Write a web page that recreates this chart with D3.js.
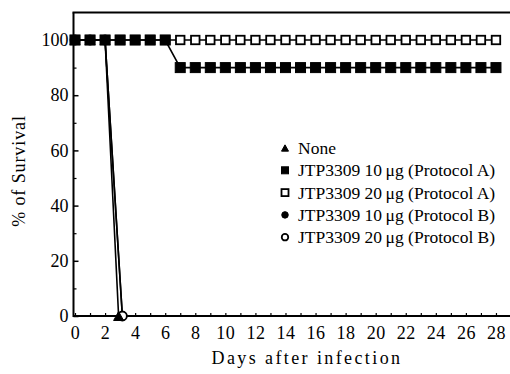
<!DOCTYPE html>
<html>
<head>
<meta charset="utf-8">
<script src="https://cdn.jsdelivr.net/npm/d3@7"></script>
<style>
  html, body { margin: 0; padding: 0; background: #fff; }
  svg { display: block; }
  text { font-family: "Liberation Serif", "Times New Roman", serif; fill: #000; }
</style>
</head>
<body>
<svg id="chart" width="510" height="374" font-family="Liberation Serif"></svg>
<script>
// ---- data ----
const daysAll = d3.range(0, 29);                       // 0..28
const noneDays = [0, 1, 2, 2.9];
const noneVals = [100, 100, 100, 0];
const a10Days = daysAll;
const a10Vals = daysAll.map(d => d <= 6 ? 100 : 90);  // 100 until day 6, 90 from day 7
const a20Days = daysAll;
const a20Vals = daysAll.map(() => 100);
const b10Days = [0, 1, 2, 3.15];
const b10Vals = [100, 100, 100, 0];
const b20Days = [0, 1, 2, 3.15];
const b20Vals = [100, 100, 100, 0];
const xTickLabels = d3.range(0, 29, 2);
const yTickLabels = [0, 20, 40, 60, 80, 100];
const legendLabels = [
  "None",
  "JTP3309 10\u2009\u03bcg (Protocol A)",
  "JTP3309 20\u2009\u03bcg (Protocol A)",
  "JTP3309 10\u2009\u03bcg (Protocol B)",
  "JTP3309 20\u2009\u03bcg (Protocol B)"
];

// ---- layout ----
const FONT = "Liberation Serif";
const svg = d3.select("#chart");
const x = d3.scaleLinear().domain([0, 29]).range([75, 511]);
const y = d3.scaleLinear().domain([0, 110]).range([316, 12.4]);

const series = [
  { name: legendLabels[3], days: b10Days, vals: b10Vals, shape: "circle", fill: true },
  { name: legendLabels[4], days: b20Days, vals: b20Vals, shape: "circle", fill: false },
  { name: legendLabels[0], days: noneDays, vals: noneVals, shape: "triangle", fill: true },
  { name: legendLabels[2], days: a20Days, vals: a20Vals, shape: "square", fill: false },
  { name: legendLabels[1], days: a10Days, vals: a10Vals, shape: "square", fill: true }
];

// frame / axes
const axX = svg.append("g").attr("transform", `translate(0,${y(0)})`)
  .call(d3.axisBottom(x).tickValues(daysAll).tickSize(-3).tickPadding(10)
    .tickFormat(d => xTickLabels.includes(d) ? d : ""));
axX.attr("font-family", FONT).attr("font-size", 18);
axX.select(".domain").remove();
axX.selectAll("text").attr("letter-spacing", 0.5);
axX.selectAll(".tick line").attr("stroke-width", 1.2);
svg.append("line").attr("x1", x(0) - 2).attr("x2", 512).attr("y1", y(0)).attr("y2", y(0))
  .attr("stroke", "#000").attr("stroke-width", 2);

const axY = svg.append("g").attr("transform", `translate(${x(0) - 1.5},0)`)
  .call(d3.axisLeft(y).tickValues(yTickLabels).tickSize(-5).tickPadding(5));
axY.attr("font-family", FONT).attr("font-size", 18);
axY.select(".domain").remove();
axY.selectAll(".tick line").attr("stroke-width", 1.5);
const axYm = svg.append("g").attr("transform", `translate(${x(0) - 1.5},0)`)
  .call(d3.axisLeft(y).tickValues([10, 30, 50, 70, 90]).tickSize(-3).tickFormat(""));
axYm.select(".domain").remove();
axYm.selectAll(".tick line").attr("stroke-width", 1.2);
svg.append("line").attr("x1", x(0) - 1.5).attr("x2", x(0) - 1.5).attr("y1", y(110)).attr("y2", y(0) + 1)
  .attr("stroke", "#000").attr("stroke-width", 2);
svg.append("line").attr("x1", x(0) - 2.5).attr("x2", 512).attr("y1", y(110)).attr("y2", y(110))
  .attr("stroke", "#000").attr("stroke-width", 2);

// axis titles
svg.append("text").attr("x", 307).attr("y", 364).attr("text-anchor", "middle")
  .attr("font-family", FONT).attr("font-size", 18).attr("letter-spacing", 2.4).text("Days after infection");
svg.append("text").attr("transform", "translate(25,171) rotate(-90)").attr("text-anchor", "middle")
  .attr("font-family", FONT).attr("font-size", 18).attr("letter-spacing", 0.9).text("% of Survival");

// marker helper
function drawMarker(g, shape, filled, cx, cy, s) {
  let m;
  if (shape === "square") {
    m = g.append("rect").attr("x", cx - s / 2).attr("y", cy - s / 2).attr("width", s).attr("height", s);
  } else if (shape === "circle") {
    m = g.append("circle").attr("cx", cx).attr("cy", cy).attr("r", s / 2);
  } else {
    const h = s * 0.9;
    m = g.append("path").attr("d", `M${cx},${cy - h / 2}L${cx + s / 2},${cy + h / 2}L${cx - s / 2},${cy + h / 2}Z`);
  }
  if (filled) m.attr("fill", "#000").attr("stroke", "#000").attr("stroke-width", 1);
  else m.attr("fill", "#fff").attr("stroke", "#000").attr("stroke-width", 1.8);
  return m;
}

// series
const line = d3.line().x(d => x(d[0])).y(d => y(d[1]));
series.forEach(s => {
  const pts = s.days.map((d, i) => [d, s.vals[i]]);
  const g = svg.append("g");
  g.append("path").attr("d", line(pts)).attr("fill", "none").attr("stroke", "#000").attr("stroke-width", 1.6);
  pts.forEach(p => {
    const size = s.shape === "square" ? (s.fill ? 10 : 8.5) : (s.shape === "circle" ? 9 : 10);
    drawMarker(g, s.shape, s.fill, x(p[0]), y(p[1]), size);
  });
});

// legend
const legendShapes = [
  { shape: "triangle", fill: true },
  { shape: "square", fill: true },
  { shape: "square", fill: false },
  { shape: "circle", fill: true },
  { shape: "circle", fill: false }
];
const lg = svg.append("g");
legendLabels.forEach((lab, i) => {
  const cy = 148 + i * 22.3;
  const sh = legendShapes[i];
  drawMarker(lg, sh.shape, sh.fill, 285, cy, sh.shape === "circle" ? 6.5 : 7);
  lg.append("text").attr("x", 298).attr("y", cy).attr("dy", "0.35em")
    .attr("font-family", FONT).attr("font-size", 17.5).text(lab);
});
</script>
</body>
</html>
